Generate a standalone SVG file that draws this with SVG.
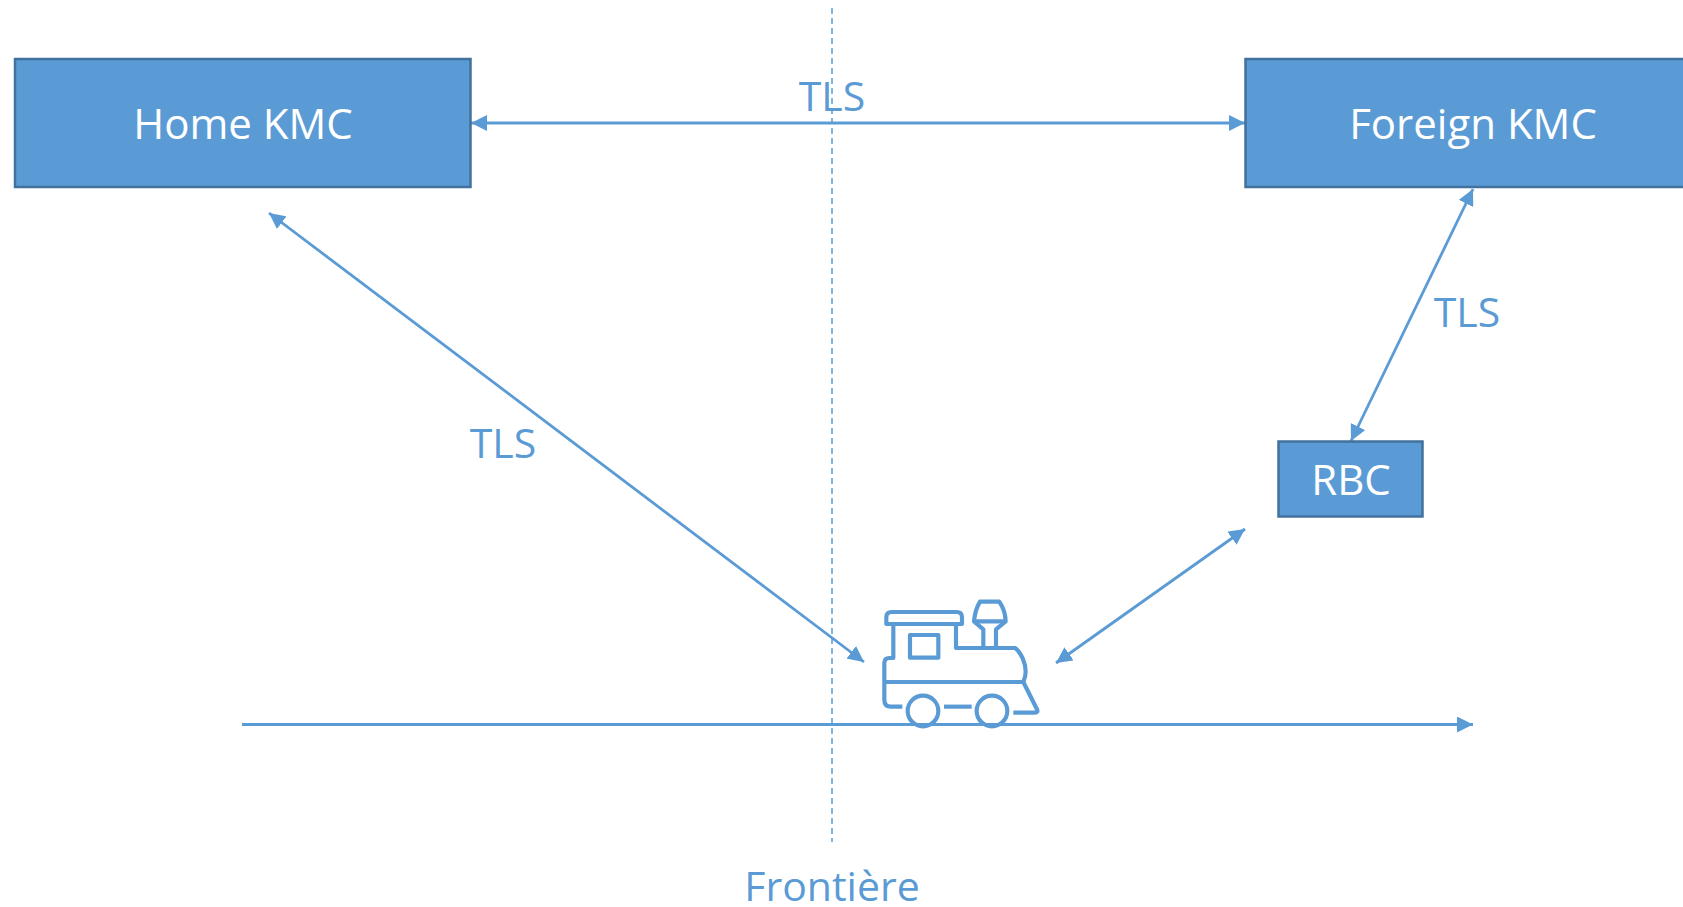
<svg xmlns="http://www.w3.org/2000/svg" width="1683" height="907" viewBox="0 0 1683 907">
<style>
.box{fill:#5b9bd5;stroke:#41719c;stroke-width:2.500}
.bt{fill:#fff;font-family:"Open Sans","Noto Sans",sans-serif;font-size:42px;text-anchor:middle}
.lb{fill:#5b9bd5;font-family:"Open Sans","Noto Sans",sans-serif;font-size:41px;text-anchor:middle}
.ln{fill:none;stroke:#5b9bd5;stroke-width:2.800}
.tr{fill:none;stroke:#5b9bd5;stroke-width:12.500;stroke-linejoin:round;stroke-linecap:butt}
</style>
<defs>
<marker id="a" viewBox="0 0 16 16" refX="16" refY="8" markerUnits="userSpaceOnUse" markerWidth="16" markerHeight="16" orient="auto-start-reverse"><path d="M0 0L16 8L0 16Z" fill="#5b9bd5"/></marker>
</defs>
<rect width="1683" height="907" fill="#fff"/>
<g id="connectors">
<line x1="832" y1="8" x2="832" y2="842" stroke="#5b9bd5" stroke-width="1.500" stroke-dasharray="6 4"/>
<line class="ln" x1="471" y1="123" x2="1245" y2="123" marker-start="url(#a)" marker-end="url(#a)"/>
<line class="ln" x1="269" y1="213" x2="864" y2="662" marker-start="url(#a)" marker-end="url(#a)"/>
<line class="ln" x1="1473" y1="189" x2="1351" y2="441" marker-start="url(#a)" marker-end="url(#a)"/>
<line class="ln" x1="1245" y1="529" x2="1056" y2="663" marker-start="url(#a)" marker-end="url(#a)"/>
<line class="ln" x1="242" y1="724.500" x2="1473" y2="724.500" marker-end="url(#a)"/>
</g>
<g id="home-kmc"><rect class="box" x="15" y="59" width="455.500" height="128"/><text class="bt" x="243" y="139">Home KMC</text></g>
<g id="foreign-kmc"><rect class="box" x="1245.500" y="59" width="460" height="128"/><text class="bt" x="1473" y="139">Foreign KMC</text></g>
<g id="rbc"><rect class="box" x="1278.500" y="441.500" width="144" height="75"/><text class="bt" x="1351" y="495">RBC</text></g>
<g id="train" transform="translate(860 580) scale(.3333)">
<path class="tr" d="M79 132V112Q79 96 95 96H290Q306 96 306 112V132Z"/>
<path class="tr" d="M100 132V234H88Q73 234 73 250V360Q73 380 93 380H127"/>
<path class="tr" d="M288 132V204H465C485 220 497 250 497 275Q497 290 490 306"/>
<rect class="tr" x="150" y="165" width="85" height="68"/>
<path class="tr" d="M75 306H490L532 390Q534 398 525 398H460"/>
<path class="tr" d="M252 380H335"/>
<circle class="tr" cx="189" cy="393" r="46"/>
<circle class="tr" cx="396" cy="393" r="46"/>
<path class="tr" d="M370 204V148L342 124Q345 90 360 65H418Q436 90 437 124L408 148V204"/>
<path class="tr" d="M342 124H437"/>
</g>
<g id="labels">
<text class="lb" x="832" y="111">TLS</text>
<text class="lb" x="503" y="458">TLS</text>
<text class="lb" x="1467" y="327">TLS</text>
<text class="lb" x="832" y="901">Frontière</text>
</g>
</svg>
